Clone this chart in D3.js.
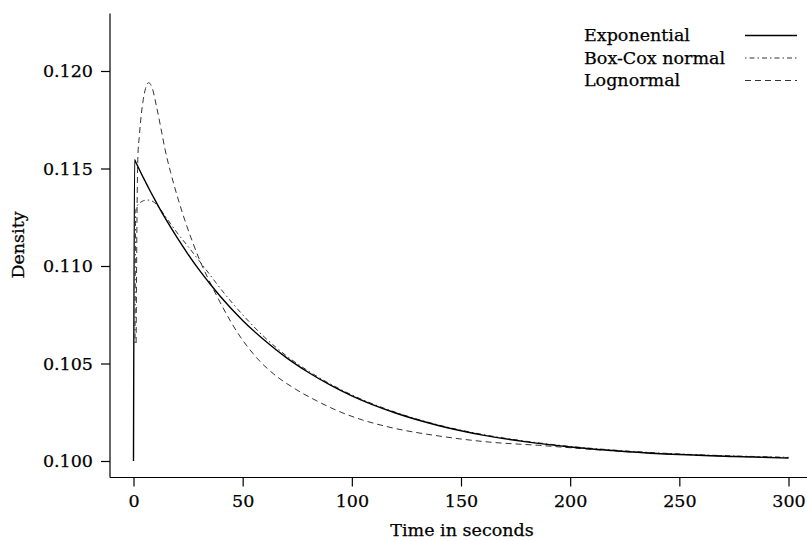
<!DOCTYPE html>
<html>
<head>
<meta charset="utf-8">
<script src="https://cdn.jsdelivr.net/npm/d3@7"></script>
<style>
  html, body { margin: 0; padding: 0; background: #fff; }
  svg text { font-family: "DejaVu Serif", "Liberation Serif", serif; fill: #000; stroke: #000; stroke-width: 0.25px; }
</style>
</head>
<body>
<svg id="chart" width="807" height="541"></svg>
<script>
// ---- data ----
const xTicks = [0, 50, 100, 150, 200, 250, 300];
const yTicks = [0.100, 0.105, 0.110, 0.115, 0.120];
const yTickLabels = ["0.100", "0.105", "0.110", "0.115", "0.120"];

const seriesNames = ["Exponential", "Box-Cox normal", "Lognormal"];

const expTime = [0, 0.5, 1, 2, 3, 4, 5, 6, 8, 10, 12, 15, 20, 25, 30, 35, 40, 50, 60, 70, 80, 90, 100, 120, 140, 160, 180, 200, 225, 250, 275, 300];
const expDensity = [0.1000, 0.11545, 0.11533, 0.11510, 0.11487, 0.11464, 0.11442, 0.11420, 0.11377, 0.11335, 0.11294, 0.11236, 0.11145, 0.11060, 0.10981, 0.10909, 0.10841, 0.10721, 0.10619, 0.10530, 0.10455, 0.10390, 0.10334, 0.10246, 0.10181, 0.10133, 0.10098, 0.10072, 0.10049, 0.10033, 0.10023, 0.10015];

const boxcoxTime = [0.7, 1, 2, 3, 4, 5, 7, 9, 11, 13, 15, 20, 25, 30, 35, 40, 50, 60, 70, 80, 90, 100, 120, 140, 160, 180, 200, 225, 250, 275, 300];
const boxcoxDensity = [0.10605, 0.11280, 0.11315, 0.11325, 0.11332, 0.11336, 0.11338, 0.11330, 0.11310, 0.11280, 0.11248, 0.11170, 0.11100, 0.11028, 0.10955, 0.10882, 0.10750, 0.10635, 0.10540, 0.10462, 0.10396, 0.10339, 0.10250, 0.10184, 0.10136, 0.10101, 0.10075, 0.10052, 0.10036, 0.10026, 0.10019];

const lognormTime = [1.2, 1.6, 2.0, 2.7, 3.5, 4.3, 5.5, 6.9, 8.5, 10.5, 12.5, 14.5, 17, 20, 23.5, 27, 30.5, 34, 38, 43, 48, 53, 58, 64, 74, 84, 94, 105, 117, 140, 163, 186, 200, 225, 250, 275, 300];
const lognormDensity = [0.10605, 0.11250, 0.11559, 0.11670, 0.11770, 0.11840, 0.11910, 0.11940, 0.11915, 0.11820, 0.11710, 0.11595, 0.11480, 0.11360, 0.11235, 0.11125, 0.11025, 0.10940, 0.10850, 0.10745, 0.10652, 0.10575, 0.10510, 0.10448, 0.10370, 0.10308, 0.10255, 0.10210, 0.10174, 0.10128, 0.10097, 0.10080, 0.10068, 0.10048, 0.10034, 0.10024, 0.10017];

// ---- drawing ----
const svg = d3.select("#chart");
const x = d3.scaleLinear().domain([0, 300]).range([133.5, 788.5]);
const y = d3.scaleLinear().domain([0.100, 0.120]).range([461, 71]);

const axisLeftX = 110, axisBottomY = 477.5;
const xMinDom = x.invert(axisLeftX), xMaxDom = x.invert(812);
const yMinDom = y.invert(axisBottomY), yMaxDom = y.invert(13.5);

// axis lines (L-shape)
svg.append("line")
  .attr("x1", x(xMinDom)).attr("x2", x(xMinDom))
  .attr("y1", y(yMinDom)).attr("y2", y(yMaxDom))
  .attr("stroke", "#000").attr("stroke-width", 1.2);
svg.append("line")
  .attr("x1", x(xMinDom)).attr("x2", x(xMaxDom))
  .attr("y1", y(yMinDom)).attr("y2", y(yMinDom))
  .attr("stroke", "#000").attr("stroke-width", 1.2);

const fontSize = 17.5;

// x axis
const gx = svg.append("g").attr("transform", `translate(0,${axisBottomY})`)
  .call(d3.axisBottom(x).tickValues(xTicks).tickSize(9).tickPadding(8).tickFormat(d3.format("d")));
gx.select(".domain").remove();
gx.selectAll(".tick line").attr("stroke", "#000").attr("stroke-width", 1.2);
gx.selectAll(".tick text").attr("font-family", "DejaVu Serif").attr("font-size", fontSize).attr("fill", "#000");

// y axis
const gy = svg.append("g").attr("transform", `translate(${axisLeftX},0)`)
  .call(d3.axisLeft(y).tickValues(yTicks).tickSize(9).tickPadding(8).tickFormat((d, i) => yTickLabels[i]));
gy.select(".domain").remove();
gy.selectAll(".tick line").attr("stroke", "#000").attr("stroke-width", 1.2);
gy.selectAll(".tick text").attr("font-family", "DejaVu Serif").attr("font-size", fontSize).attr("fill", "#000");

// axis titles
svg.append("text").attr("x", 462).attr("y", 536).attr("text-anchor", "middle")
  .attr("font-size", fontSize).text("Time in seconds");
svg.append("text").attr("transform", "translate(24,245) rotate(-90)").attr("text-anchor", "middle")
  .attr("font-size", fontSize).text("Density");

// series
const styles = [
  { stroke: "#000", width: 1.4, dash: null },
  { stroke: "#333", width: 1.0, dash: "1.5,3,5,3" },
  { stroke: "#333", width: 1.0, dash: "6,4" }
];
const series = [
  expTime.map((t, i) => [t, expDensity[i]]),
  boxcoxTime.map((t, i) => [t, boxcoxDensity[i]]),
  lognormTime.map((t, i) => [t, lognormDensity[i]])
];
const line = d3.line().x(d => x(d[0])).y(d => y(d[1])).curve(d3.curveMonotoneX);

[2, 1, 0].forEach(k => {
  svg.append("path").datum(series[k])
    .attr("d", line)
    .attr("fill", "none")
    .attr("stroke", styles[k].stroke)
    .attr("stroke-width", styles[k].width)
    .attr("stroke-dasharray", styles[k].dash);
});

// legend
const legY0 = 41, legDy = 22.5;
seriesNames.forEach((name, k) => {
  const by = legY0 + k * legDy;
  svg.append("text").attr("x", 584).attr("y", by).attr("font-size", fontSize).text(name);
  svg.append("line").attr("x1", 745).attr("x2", 797)
    .attr("y1", by - 5.5).attr("y2", by - 5.5)
    .attr("stroke", styles[k].stroke).attr("stroke-width", styles[k].width)
    .attr("stroke-dasharray", styles[k].dash);
});
</script>
</body>
</html>
